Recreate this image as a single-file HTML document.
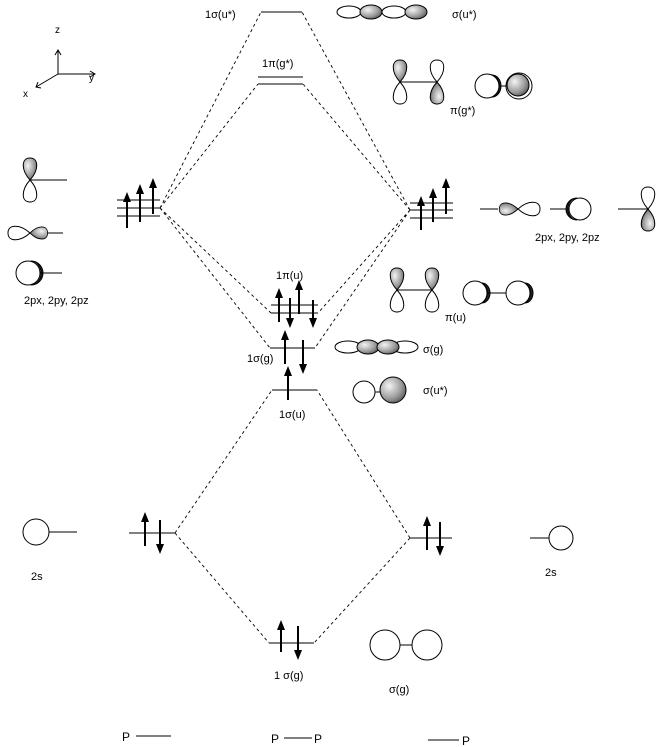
<!DOCTYPE html>
<html><head><meta charset="utf-8"><style>
html,body{margin:0;padding:0;background:#fff;}
svg{display:block;font-family:"Liberation Sans","DejaVu Sans",sans-serif;}
</style></head><body>
<svg width="659" height="747" viewBox="0 0 659 747" xmlns="http://www.w3.org/2000/svg">
<defs>
<radialGradient id="g" cx="0.35" cy="0.35" r="0.8"><stop offset="0" stop-color="#f4f4f4"/><stop offset="0.6" stop-color="#9a9a9a"/><stop offset="1" stop-color="#444"/></radialGradient>
<path id="lu" d="M0 0 C-9 -10 -9 -22 0 -22 C9 -22 9 -10 0 0 Z"/>
</defs>
<g stroke="#000" stroke-width="1" fill="none">
<!-- dashed connectors -->
<g stroke-dasharray="3,3" stroke-width="0.9">
<path d="M160 208 L261 12 M160 208 L258 84 M160 208 L271 313 M160 208 L270 348"/>
<path d="M410 210 L302 12 M410 210 L303 84 M410 210 L318 313 M410 210 L315 348"/>
<path d="M175 533 L272 390 M175 533 L269 643 M410 538 L317 390 M410 538 L314 643"/>
</g>
<!-- levels -->
<path d="M261 12 H302 M258 77 H303 M258 84 H303"/>
<path d="M117 200 H160 M117 208 H160 M117 216 H160"/>
<path d="M410 203 H453 M410 210 H453 M410 218 H453"/>
<path d="M271 305 H318 M271 313 H318 M270 348 H315 M272 390 H317"/>
<path d="M129 533 H175 M410 538 H452 M269 643 H314"/>
</g>
<!-- arrows -->
<g stroke="#000" stroke-width="2" fill="#000">
<g id="arr">
<path d="M127 228 V196"/><path d="M140 222 V188"/><path d="M153 214 V182"/>
<path d="M421 230 V200"/><path d="M433 222 V192"/><path d="M446 214 V182"/>
<path d="M279 322 V292"/><path d="M299 314 V284"/><path d="M290 298 V324"/><path d="M313 300 V324"/>
<path d="M285 364 V334"/><path d="M303 340 V370"/><path d="M288 400 V370"/>
<path d="M145 546 V516"/><path d="M160 520 V550"/><path d="M427 550 V520"/><path d="M440 522 V552"/>
<path d="M281 652 V624"/><path d="M298 626 V656"/>
</g>
<g stroke="none">
<polygon points="127,192 123,202 131,202"/><polygon points="140,184 136,194 144,194"/><polygon points="153,178 149,188 157,188"/>
<polygon points="421,196 417,206 425,206"/><polygon points="433,188 429,198 437,198"/><polygon points="446,178 442,188 450,188"/>
<polygon points="279,288 275,298 283,298"/><polygon points="299,280 295,290 303,290"/>
<polygon points="290,328 286,318 294,318"/><polygon points="313,328 309,318 317,318"/>
<polygon points="285,330 281,340 289,340"/><polygon points="303,374 299,364 307,364"/><polygon points="288,366 284,376 292,376"/>
<polygon points="145,512 141,522 149,522"/><polygon points="160,554 156,544 164,544"/>
<polygon points="427,516 423,526 431,526"/><polygon points="440,556 436,546 444,546"/>
<polygon points="281,620 277,630 285,630"/><polygon points="298,660 294,650 302,650"/>
</g>
</g>
<!-- orbitals -->
<g stroke="#000" stroke-width="1">
<!-- left p -->
<use href="#lu" transform="translate(30,180)" fill="url(#g)"/>
<use href="#lu" transform="translate(30,180) rotate(180)" fill="#fff"/>
<line x1="30" y1="180" x2="67" y2="180"/>
<use href="#lu" transform="translate(30,233) rotate(-90)" fill="#fff"/>
<use href="#lu" transform="translate(30,233) rotate(90) scale(0.9,0.8)" fill="url(#g)"/>
<line x1="48" y1="233" x2="63" y2="233"/>
<circle cx="28" cy="273" r="12" fill="#fff"/>
<path d="M31 261 A12 12 0 0 1 31 285 A10 12 0 0 0 31 261Z" fill="#222"/>
<line x1="40" y1="273" x2="62" y2="273"/>
<!-- right p -->
<line x1="480" y1="209" x2="498" y2="209"/>
<use href="#lu" transform="translate(518,209) rotate(-90) scale(0.9,0.85)" fill="url(#g)"/>
<use href="#lu" transform="translate(518,209) rotate(90)" fill="#fff"/>
<line x1="550" y1="209" x2="568" y2="209"/>
<circle cx="580" cy="209" r="11" fill="#fff"/>
<path d="M577 198 A11 11 0 0 0 577 220 A9 11 0 0 1 577 198Z" fill="#222"/>
<line x1="618" y1="209" x2="648" y2="209"/>
<use href="#lu" transform="translate(648,209)" fill="#fff"/>
<use href="#lu" transform="translate(648,209) rotate(180)" fill="url(#g)"/>
<!-- sigma u* top -->
<ellipse cx="349" cy="12" rx="12" ry="6" fill="#fff"/>
<ellipse cx="371" cy="12" rx="11" ry="7" fill="url(#g)"/>
<ellipse cx="394" cy="12" rx="12" ry="6" fill="#fff"/>
<ellipse cx="416" cy="12" rx="11" ry="7" fill="url(#g)"/>
<!-- pi g* -->
<use href="#lu" transform="translate(400,82)" fill="url(#g)"/>
<use href="#lu" transform="translate(400,82) rotate(180)" fill="#fff"/>
<use href="#lu" transform="translate(437,82)" fill="#fff"/>
<use href="#lu" transform="translate(437,82) rotate(180)" fill="url(#g)"/>
<line x1="400" y1="82" x2="437" y2="82"/>
<circle cx="487" cy="86" r="12" fill="#fff"/>
<path d="M492 75 A12 12 0 0 1 492 97 A9 11 0 0 0 492 75Z" fill="#222"/>
<line x1="499" y1="86" x2="507" y2="86"/>
<circle cx="519" cy="86" r="13" fill="#fff"/>
<circle cx="518" cy="85" r="11" fill="url(#g)"/>
<!-- pi u -->
<use href="#lu" transform="translate(397,290)" fill="url(#g)"/>
<use href="#lu" transform="translate(397,290) rotate(180)" fill="#fff"/>
<use href="#lu" transform="translate(432,290)" fill="url(#g)"/>
<use href="#lu" transform="translate(432,290) rotate(180)" fill="#fff"/>
<line x1="397" y1="290" x2="432" y2="290"/>
<circle cx="475" cy="293" r="12" fill="#fff"/>
<path d="M482 283 A12 12 0 0 1 482 303 A8 10 0 0 0 482 283Z" fill="#222"/>
<line x1="487" y1="293" x2="506" y2="293"/>
<circle cx="518" cy="293" r="12" fill="#fff"/>
<path d="M525 283 A12 12 0 0 1 525 303 A8 10 0 0 0 525 283Z" fill="#222"/>
<!-- sigma g mid -->
<ellipse cx="348" cy="347" rx="13" ry="6" fill="#fff"/>
<ellipse cx="405" cy="347" rx="13" ry="6" fill="#fff"/>
<ellipse cx="368" cy="347" rx="11" ry="7" fill="url(#g)"/>
<ellipse cx="388" cy="347" rx="11" ry="7" fill="url(#g)"/>
<!-- sigma u* mid -->
<circle cx="364" cy="392" r="11" fill="#fff"/>
<line x1="375" y1="392" x2="381" y2="392"/>
<circle cx="393" cy="390" r="13" fill="url(#g)"/>
<!-- 2s -->
<circle cx="36" cy="532" r="13" fill="#fff"/>
<line x1="49" y1="532" x2="77" y2="532"/>
<circle cx="561" cy="538" r="12" fill="#fff"/>
<line x1="530" y1="538" x2="549" y2="538"/>
<!-- sigma g bottom -->
<circle cx="385" cy="645" r="15" fill="#fff"/>
<circle cx="427" cy="645" r="15" fill="#fff"/>
<line x1="400" y1="645" x2="412" y2="645"/>
<!-- axes -->
<path d="M58 74 V50 M55 55 L58 50 L61 55 M58 74 H95 M90 71 L95 74 L90 77 M58 74 L36 87 M38 82 L36 87 L41 88" fill="none"/>
<!-- bottom -->
<line x1="136" y1="736" x2="171" y2="736"/>
<line x1="284" y1="738" x2="312" y2="738"/>
<line x1="428" y1="740" x2="459" y2="740"/>
</g>
<g font-size="11" fill="#000">
<text x="205" y="18">1σ(u*)</text>
<text x="262" y="67">1π(g*)</text>
<text x="452" y="18">σ(u*)</text>
<text x="450" y="114">π(g*)</text>
<text x="276" y="279">1π(u)</text>
<text x="445" y="321">π(u)</text>
<text x="247" y="362">1σ(g)</text>
<text x="423" y="353">σ(g)</text>
<text x="279" y="418">1σ(u)</text>
<text x="423" y="394">σ(u*)</text>
<text x="24" y="304">2px, 2py, 2pz</text>
<text x="535" y="241">2px, 2py, 2pz</text>
<text x="31" y="580">2s</text>
<text x="545" y="576">2s</text>
<text x="274" y="679">1 σ(g)</text>
<text x="389" y="693">σ(g)</text>
<text x="55" y="33" font-size="10">z</text>
<text x="89" y="81" font-size="10">y</text>
<text x="23" y="97" font-size="10">x</text>
<text x="122" y="741" font-size="12">P</text>
<text x="271" y="743" font-size="12">P</text>
<text x="314" y="743" font-size="12">P</text>
<text x="462" y="745" font-size="12">P</text>
</g>
</svg>
</body></html>
